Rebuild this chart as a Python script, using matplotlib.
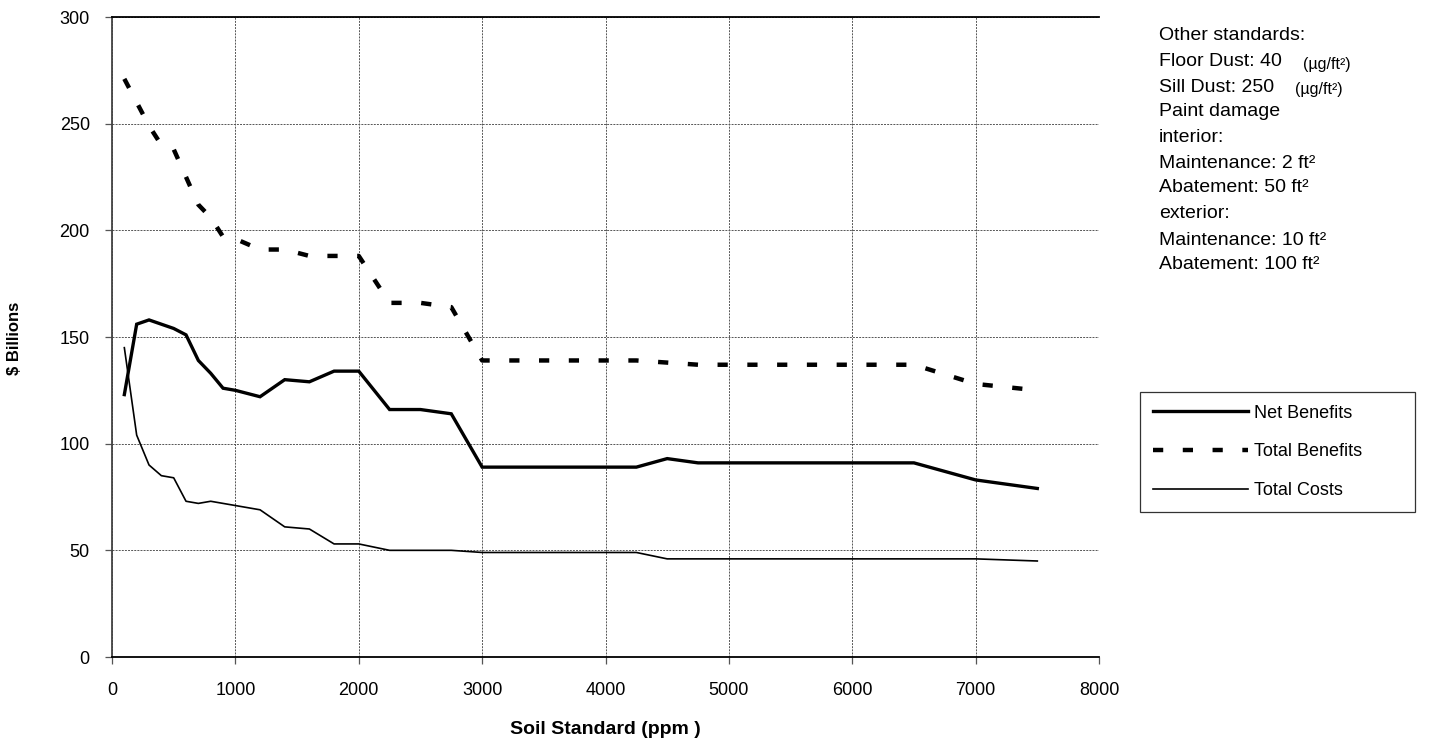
import matplotlib
matplotlib.use("Agg")
import matplotlib.pyplot as plt

plt.rcParams["font.family"] = ["Liberation Sans", "DejaVu Sans"]

# soil standard (ppm) at each computed point
soil_ppm = [100, 200, 300, 400, 500, 600, 700, 800, 900, 1000, 1200, 1400,
            1600, 1800, 2000, 2250, 2500, 2750, 3000, 4250, 4500, 4750,
            6500, 7000, 7500]

net_benefits = [123, 156, 158, 156, 154, 151, 139, 133, 126, 125, 122, 130,
                129, 134, 134, 116, 116, 114, 89, 89, 93, 91,
                91, 83, 79]

total_benefits = [271, 260, 249, 240, 238, 225, 212, 206, 197, 196, 191, 191,
                  188, 188, 188, 166, 166, 164, 139, 139, 138, 137,
                  137, 128, 125]

total_costs = [145, 104, 90, 85, 84, 73, 72, 73, 72, 71, 69, 61,
               60, 53, 53, 50, 50, 50, 49, 49, 46, 46,
               46, 46, 45]

x_ticks = [0, 1000, 2000, 3000, 4000, 5000, 6000, 7000, 8000]
y_ticks = [0, 50, 100, 150, 200, 250, 300]

note_lines = [
    "Other standards:",
    "Floor Dust: 40",
    "Sill Dust: 250",
    "Paint damage",
    "interior:",
    "Maintenance: 2 ft\u00b2",
    "Abatement: 50 ft\u00b2",
    "exterior:",
    "Maintenance: 10 ft\u00b2",
    "Abatement: 100 ft\u00b2",
]
unit_label = "(\u00b5g/ft\u00b2)"

W, H = 1452, 750
fig = plt.figure(figsize=(W / 100, H / 100), dpi=100)
ax = fig.add_axes([112 / W, 1 - 657 / H, (1099 - 112) / W, 640 / H])

ax.plot(soil_ppm, net_benefits, color="black", lw=2.4,
        solid_joinstyle="miter", label="Net Benefits", zorder=3)
ax.plot(soil_ppm, total_benefits, color="black", lw=3.2,
        dashes=(2.3, 4.4), dash_capstyle="butt", label="Total Benefits", zorder=3)
ax.plot(soil_ppm, total_costs, color="black", lw=1.2,
        label="Total Costs", zorder=3)

ax.set_xlim(0, 8000)
ax.set_ylim(0, 300)
ax.set_xticks(x_ticks)
ax.set_yticks(y_ticks)
ax.grid(True, color="#555555", linestyle=(0, (2, 1.2)), lw=0.7)

ax.spines["right"].set_visible(False)
ax.spines["top"].set_color("black")
ax.spines["top"].set_linewidth(1.3)
ax.spines["bottom"].set_linewidth(1.3)
ax.spines["left"].set_color("#444444")
ax.spines["left"].set_linewidth(1.3)

ax.tick_params(axis="x", direction="out", length=5, width=0.9,
               color="#555555", pad=13, labelsize=13)
ax.tick_params(axis="y", direction="out", length=5, width=0.9,
               color="#555555", pad=11, labelsize=13)

ax.set_xlabel("Soil Standard (ppm )", fontsize=14, fontweight="bold", labelpad=16)
fig.text(15 / W, 1 - 338 / H, r"\$ Billions", rotation=90, fontsize=12,
         fontweight="bold", ha="center", va="center")

# notes on the right
y_pos = [35, 62, 87, 112, 137, 163, 188, 214, 240, 265]
note_texts = []
for txt, yp in zip(note_lines, y_pos):
    t = fig.text(1159 / W, 1 - yp / H, txt, fontsize=14, ha="left", va="center")
    note_texts.append(t)
for t in note_texts[1:3]:
    ax.annotate(unit_label, xy=(1, 0), xycoords=t, xytext=(15, -1),
                textcoords="offset points", fontsize=11.5, ha="left", va="bottom",
                annotation_clip=False)

leg = fig.legend(loc="upper left", bbox_to_anchor=(1140 / W, 1 - 392 / H, 275 / W, 0),
                 mode="expand", fontsize=13, frameon=True, fancybox=False,
                 edgecolor="black", handlelength=5.3, handletextpad=0.3,
                 labelspacing=1.2, borderpad=0.7, borderaxespad=0)
leg.get_frame().set_linewidth(0.9)

fig.savefig("out.png", dpi=100)
